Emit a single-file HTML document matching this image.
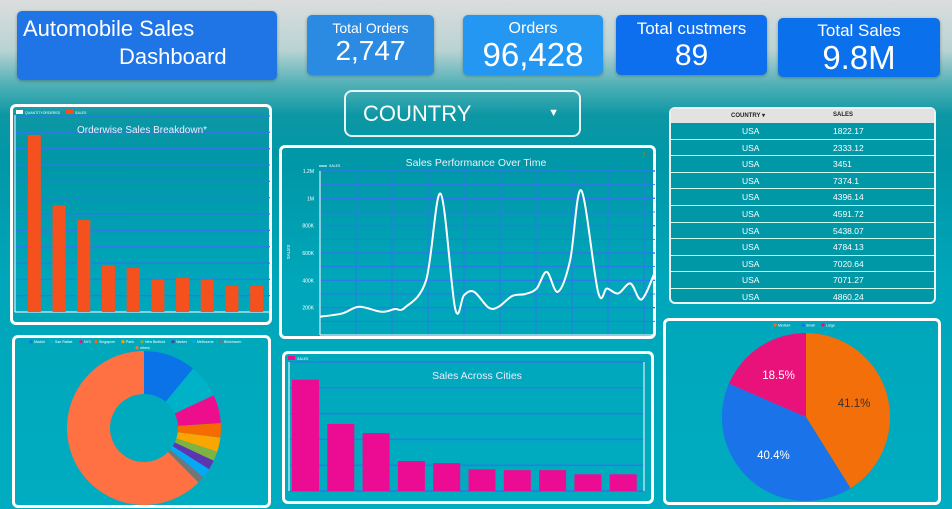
<!DOCTYPE html>
<html><head><meta charset="utf-8">
<style>
*{margin:0;padding:0;box-sizing:border-box}
body{width:952px;height:509px;overflow:hidden;position:relative;font-family:"Liberation Sans",sans-serif;
background:linear-gradient(180deg,#dcdddd 0px,#b9d3d3 50px,#4fb0b6 85px,#0d97a4 115px,#0097a7 160px,#00a6ba 280px,#00acc1 509px);}
.box{position:absolute;color:#fff;text-align:center;border-radius:5px;box-shadow:0 1px 3px rgba(0,0,0,.3)}
.panel{position:absolute;border:3px solid #fff;border-radius:6px}
svg{position:absolute;left:0;top:0}
</style></head><body>
<div class="box" style="left:17px;top:11px;width:260px;height:69px;background:#1f74e6;text-align:left;font-size:22px;line-height:28px;padding:4px 6px">Automobile Sales<br><span style="padding-left:96px">Dashboard</span></div>
<div class="box" style="left:307px;top:15px;width:127px;height:60px;background:#2b8be2"><div style="font-size:14px;margin-top:5px">Total Orders</div><div style="font-size:28px;line-height:30px">2,747</div></div>
<div class="box" style="left:463px;top:15px;width:140px;height:60px;background:#2397f2"><div style="font-size:16px;margin-top:5px">Orders</div><div style="font-size:33px;line-height:34px">96,428</div></div>
<div class="box" style="left:616px;top:15px;width:151px;height:60px;background:#0d6fee"><div style="font-size:17px;margin-top:4px">Total custmers</div><div style="font-size:30px;line-height:34px">89</div></div>
<div class="box" style="left:778px;top:18px;width:162px;height:59px;background:#0a70ec"><div style="font-size:17px;margin-top:3px">Total Sales</div><div style="font-size:33px;line-height:34px">9.8M</div></div>
<div style="position:absolute;left:344px;top:90px;width:237px;height:47px;border:2px solid #e8f4f4;border-radius:8px;color:#fff;font-size:22px;line-height:43px;padding-left:17px">COUNTRY<span style="position:absolute;right:20px;top:0;font-size:11px">▼</span></div>

<div class="panel" style="left:10px;top:104px;width:262px;height:221px"></div>
<div class="panel" style="left:279px;top:145px;width:377px;height:194px"></div>
<div class="panel" style="left:12px;top:335px;width:259px;height:173px"></div>
<div class="panel" style="left:282px;top:351px;width:372px;height:153px"></div>
<div class="panel" style="left:663px;top:318px;width:278px;height:187px"></div>

<div style="position:absolute;left:669px;top:107px;width:267px;height:197px;border:2px solid #f0f0f0;border-radius:6px;overflow:hidden;background:#0097a7">
<div style="background:#e2e2e2;height:14px;font-size:6px;font-weight:bold;color:#222;position:relative"><span style="position:absolute;left:60px;top:3px">COUNTRY ▾</span><span style="position:absolute;left:162px;top:3px">SALES</span></div>
<div id="rows"></div>
</div>

<svg id="chart" width="952" height="509"></svg>

<script>
// Orderwise bars
const orderCats=["o1","o2","o3","o4","o5","o6","o7","o8","o9","o10"];
const orderSales=[108.4,65.3,56.3,28.6,26.9,20.0,20.8,20.0,15.9,15.9];
// Line chart
const timeX=[0,2,3.5,5.5,6.7,7.6,9.5,10.8,12.1,12.9,13.8,15.1,16,17.2,18.4,19.4,20.3,21.3,22.4,23.4,24.9,25.7,26.7,27.8,28.8,30];
const timeSales=[134,158,207,170,190,200,400,1034,195,292,316,200,207,285,300,340,462,316,547,1058,316,340,304,377,260,462];
const timeTicks=["200K","400K","600K","800K","1M","1.2M"];
const timeTickVals=[200,400,600,800,1000,1200];
// City bars
const cityNames=["Madrid","San Rafael","NYC","Singapore","Paris","New Bedford","Nantes","Melbourne","Brickhaven","Others"];
const citySales=[1078,650,562,290,270,210,202,202,162,162];
// Donut
const donutLabels=["Madrid","San Rafael","NYC","Singapore","Paris","New Bedford","Nantes","Melbourne","Brickhaven","others"];
const donutValues=[11,7,6,3,3,2,2,2,1.5,62.5];
const donutColors=["#0a73e8","#00b2c8","#ec0e8c","#f56b00","#f9a600","#7cb342","#5e35b1","#03a9f4","#757575","#ff7043"];
// Deal size pie
const pieLabels=["Medium","Small","Large"];
const pieValues=[41.1,40.4,18.5];
const pieColors=["#f36f0a","#1a73e8","#e8127a"];
// Table
const tableCountry=["USA","USA","USA","USA","USA","USA","USA","USA","USA","USA","USA"];
const tableSales=["1822.17","2333.12","3451","7374.1","4396.14","4591.72","5438.07","4784.13","7020.64","7071.27","4860.24"];

const NS="http://www.w3.org/2000/svg";
const svg=document.getElementById('chart');
function mk(tag,attrs,parent){const e=document.createElementNS(NS,tag);for(const k in attrs)e.setAttribute(k,attrs[k]);(parent||svg).appendChild(e);return e;}
function txt(x,y,s,size,fill,anchor){const t=mk('text',{x:x,y:y,'font-size':size,fill:fill||'#fff','text-anchor':anchor||'middle','font-family':'Liberation Sans, sans-serif'});t.textContent=s;return t;}

// ---- Orderwise chart
(function(){
 const L=15,R=270,B=312,T=116,max=120;
 const y=v=>B-v/max*(B-T);
 for(let i=1;i<=12;i++){const g=mk('line',{x1:L,x2:R,y1:y(i*10),y2:y(i*10),stroke:'#2a7be4','stroke-width':1.3});
 
 }
 mk('line',{x1:L,x2:L,y1:115,y2:B,stroke:'#fff','stroke-width':1});
 mk('line',{x1:L,x2:R,y1:B,y2:B,stroke:'#fff','stroke-width':1});
 const step=(R-L-8)/orderCats.length;
 orderSales.forEach((v,i)=>{const r=mk('rect',{x:L+12+i*step+(step-13)/2-5,y:y(v),width:13,height:B-y(v),fill:'#f4511e'});
 
 });
 const tl=txt(142,133,'Orderwise Sales Breakdown*',10,'#eef');
 
 
 mk('rect',{x:16,y:110,width:7,height:4,fill:'#fff'});txt(25,114,'QUANTITYORDERED',3.5,'#fff','start');
 mk('rect',{x:66,y:110,width:7,height:4,fill:'#f4511e'});txt(75,114,'SALES',3.5,'#fff','start');
})();

// ---- Line chart
(function(){
 const L=320,R=655,T=171,B=335,max=1200;
 const y=v=>B-v/max*(B-T);
 const x=v=>L+v/30*(R-L);
 for(let v=100;v<=1200;v+=100){const g=mk('line',{x1:L,x2:R,y1:y(v),y2:y(v),stroke:'#2a7be4','stroke-width':v%200?1:1.4});
 
 }
 for(let i=1;i<=9;i++){mk('line',{x1:L+i*36,x2:L+i*36,y1:T,y2:B,stroke:'#2a7be4','stroke-width':1});}
 mk('line',{x1:L,x2:L,y1:T,y2:B,stroke:'#fff','stroke-width':1});
 mk('line',{x1:L,x2:R,y1:B,y2:B,stroke:'#fff','stroke-width':1});
 timeTicks.forEach((s,i)=>{const t=txt(L-6,y(timeTickVals[i])+2,s,5,'#fff','end');
 
 });
 const at=txt(0,0,'SALES',4.5,'#fff');at.setAttribute('transform','translate(290,252) rotate(-90)');
 const pts=timeX.map((v,i)=>[x(v),y(timeSales[i])]);
 let d='M'+pts[0][0]+','+pts[0][1];
 for(let i=0;i<pts.length-1;i++){const p0=pts[Math.max(0,i-1)],p1=pts[i],p2=pts[i+1],p3=pts[Math.min(pts.length-1,i+2)];
  d+=` C${p1[0]+(p2[0]-p0[0])/6},${p1[1]+(p2[1]-p0[1])/6} ${p2[0]-(p3[0]-p1[0])/6},${p2[1]-(p3[1]-p1[1])/6} ${p2[0]},${p2[1]}`;}
 const ln=mk('path',{d:d,fill:'none',stroke:'#fff','stroke-width':2});
 
 
 const tl=txt(476,166,'Sales Performance Over Time',10.5,'#eef');
 
 
 mk('line',{x1:319,x2:327,y1:166,y2:166,stroke:'#fff','stroke-width':1});txt(329,167,'SALES',3.5,'#fff','start');
 txt(644,155,'↕',6,'#f57c00');
})();

// ---- City bars
(function(){
 const L=289,R=644,T=362,B=491,max=1250;
 const y=v=>B-v/max*(B-T);
 for(let v=250;v<=1250;v+=250){const g=mk('line',{x1:L,x2:R,y1:y(v),y2:y(v),stroke:'#2a7be4','stroke-width':1.5});
 
 }
 mk('line',{x1:L,x2:R,y1:B,y2:B,stroke:'#2a7be4','stroke-width':2});
 mk('line',{x1:L,x2:L,y1:T,y2:B,stroke:'#fff','stroke-width':1});
 mk('line',{x1:R,x2:R,y1:T,y2:B,stroke:'#fff','stroke-width':1});
 const step=(R-L-2)/cityNames.length;
 citySales.forEach((v,i)=>{const r=mk('rect',{x:L+3+i*step,y:y(v),width:27,height:B-y(v),fill:'#ec0c93'});
 
 });
 const tl=txt(477,379,'Sales Across Cities',10.5,'#eef');
 
 
 mk('rect',{x:288,y:356,width:7,height:4,fill:'#ec0c93'});txt(297,360,'SALES',3.5,'#fff','start');
})();

function arc(cx,cy,r0,r1,a0,a1){
 const p=(r,a)=>[cx+r*Math.sin(a),cy-r*Math.cos(a)];const lg=a1-a0>Math.PI?1:0;
 const A=p(r1,a0),Bp=p(r1,a1);
 if(r0===0)return `M${cx},${cy}L${A}A${r1},${r1} 0 ${lg} 1 ${Bp}Z`;
 const C=p(r0,a1),D=p(r0,a0);
 return `M${A}A${r1},${r1} 0 ${lg} 1 ${Bp}L${C}A${r0},${r0} 0 ${lg} 0 ${D}Z`;}

// ---- Donut
(function(){
 const tot=donutValues.reduce((a,b)=>a+b,0);let a=0;
 donutValues.forEach((v,i)=>{const a1=a+v/tot*2*Math.PI;const s=mk('path',{d:arc(144,428,34,77,a,a1),fill:donutColors[i]});
 
 a=a1;});
 let lx=31;
 donutLabels.forEach((s,i)=>{const yy=i<9?343:349;const xx=i<9?lx:137;
  mk('circle',{cx:xx,cy:yy-1.3,r:1.6,fill:donutColors[i]});txt(xx+3,yy,s,3.5,'#fff','start');lx+=s.length*2+9;});
})();

// ---- Deal size pie
(function(){
 const tot=pieValues.reduce((a,b)=>a+b,0);let a=0;
 pieValues.forEach((v,i)=>{const a1=a+v/tot*2*Math.PI;const s=mk('path',{d:arc(806,417,0,84,a,a1),fill:pieColors[i]});
 
 
 const m=(a+a1)/2;const t=txt(806+50*Math.sin(m),417-50*Math.cos(m)+4,v.toFixed(1)+'%',11.5,i==0?'#333':'#fff');
 
 a=a1;});
 pieLabels.forEach((s,i)=>{const xx=[775,803,823][i];mk('circle',{cx:xx,cy:325,r:1.7,fill:pieColors[i]});txt(xx+3,326.5,s,3.5,'#fff','start');});
})();

// ---- Table rows
const rows=document.getElementById('rows');
tableCountry.forEach((c,i)=>{const r=document.createElement('div');
 
 
 r.style.cssText='height:16.6px;border-bottom:1px solid #cfe;position:relative;color:#fff;font-size:8.5px;line-height:16px;';
 r.innerHTML='<span style="position:absolute;left:71px">'+c+'</span><span style="position:absolute;left:162px">'+tableSales[i]+'</span>';
 rows.appendChild(r);});
</script>
</body></html>
